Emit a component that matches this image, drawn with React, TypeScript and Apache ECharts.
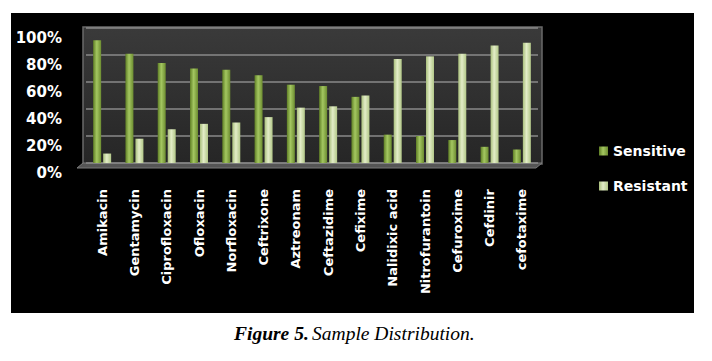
import React, { useEffect, useRef } from "react";
import * as echarts from "echarts";

const categories = [
  "Amikacin", "Gentamycin", "Ciprofloxacin", "Ofloxacin", "Norfloxacin", "Ceftrixone",
  "Aztreonam", "Ceftazidime", "Cefixime", "Nalidixic acid", "Nitrofurantoin",
  "Cefuroxime", "Cefdinir", "cefotaxime",
];
const sensitive = [91, 81, 74, 70, 69, 65, 58, 57, 49, 21, 20, 17, 12, 10];
const resistant = [7, 18, 25, 29, 30, 34, 41, 42, 50, 77, 79, 81, 87, 89];
const yTicks = [0, 20, 40, 60, 80, 100];

export default function App() {
  const ref = useRef<HTMLDivElement>(null);
  useEffect(() => {
    const chart = echarts.init(ref.current!, null, { renderer: "svg" });
    const font = "DejaVu Sans";
    const sensColor = new echarts.graphic.LinearGradient(0, 0, 1, 0, [
      { offset: 0, color: "#5f7f25" },
      { offset: 0.45, color: "#a4c761" },
      { offset: 1, color: "#6c8c30" },
    ]);
    const resColor = new echarts.graphic.LinearGradient(0, 0, 1, 0, [
      { offset: 0, color: "#a9bf7c" },
      { offset: 0.45, color: "#e3edc8" },
      { offset: 1, color: "#b2c788" },
    ]);
    chart.setOption({
      animation: false,
      backgroundColor: "#ffffff",
      graphic: [
        { type: "rect", z: -10, shape: { x: 11, y: 13, width: 683, height: 300 }, style: { fill: "#000000" } },
        {
          type: "rect", z: -5,
          shape: { x: 83, y: 27, width: 459, height: 137 },
          style: {
            fill: new echarts.graphic.LinearGradient(0, 0, 0, 1, [
              { offset: 0, color: "#3a3a3a" },
              { offset: 1, color: "#262626" },
            ]),
            stroke: "#6a6a6a", lineWidth: 1.5,
          },
        },
        {
          type: "polygon", z: -4,
          shape: { points: [[83, 163], [542, 163], [536, 168], [77, 168]] },
          style: { fill: "#555555", stroke: "#7a7a7a", lineWidth: 1 },
        },
        {
          type: "text", left: 234, top: 323,
          style: {
            text: "{b|Figure 5.} {i|Sample Distribution.}",
            rich: {
              b: { fontFamily: "Liberation Serif", fontSize: 19.5, fontWeight: "bold", fontStyle: "italic", fill: "#000" },
              i: { fontFamily: "Liberation Serif", fontSize: 19.5, fontStyle: "italic", fill: "#000" },
            },
          },
        },
      ],
      grid: { left: 86, right: 174, top: 28, bottom: 198 },
      legend: {
        orient: "vertical",
        left: 594,
        top: 139,
        itemGap: 21,
        itemWidth: 9,
        itemHeight: 9,
        icon: "rect",
        textStyle: { color: "#ffffff", fontFamily: font, fontSize: 14, fontWeight: "bold" },
        data: ["Sensitive", "Resistant"],
      },
      xAxis: {
        type: "category",
        data: categories,
        axisLine: { show: false },
        axisTick: { show: false },
        axisLabel: {
          rotate: 90,
          margin: 26,
          interval: 0,
          color: "#ffffff",
          fontFamily: font,
          fontSize: 13,
          fontWeight: "bold",
        },
      },
      yAxis: {
        type: "value",
        min: 0,
        max: 100,
        interval: 20,
        axisLine: { show: false },
        axisTick: { show: false },
        splitLine: { lineStyle: { color: "#8a8a8a", width: 1.5 } },
        axisLabel: {
          margin: 24,
          color: "#ffffff",
          fontFamily: font,
          fontSize: 15,
          fontWeight: "bold",
          verticalAlign: "top",
          lineHeight: 20,
          formatter: (v: number) => (yTicks.includes(v) ? v + "%" : ""),
        },
      },
      series: [
        {
          name: "Sensitive",
          type: "bar",
          data: sensitive,
          barWidth: 8,
          barGap: "25%",
          itemStyle: { color: sensColor },
        },
        {
          name: "Resistant",
          type: "bar",
          data: resistant,
          barWidth: 8,
          itemStyle: { color: resColor },
        },
      ],
    });
    return () => chart.dispose();
  }, []);
  return (
    <div
      ref={ref}
      style={{ position: "fixed", left: 0, top: 0, width: 712, height: 361, background: "#fff" }}
    />
  );
}
